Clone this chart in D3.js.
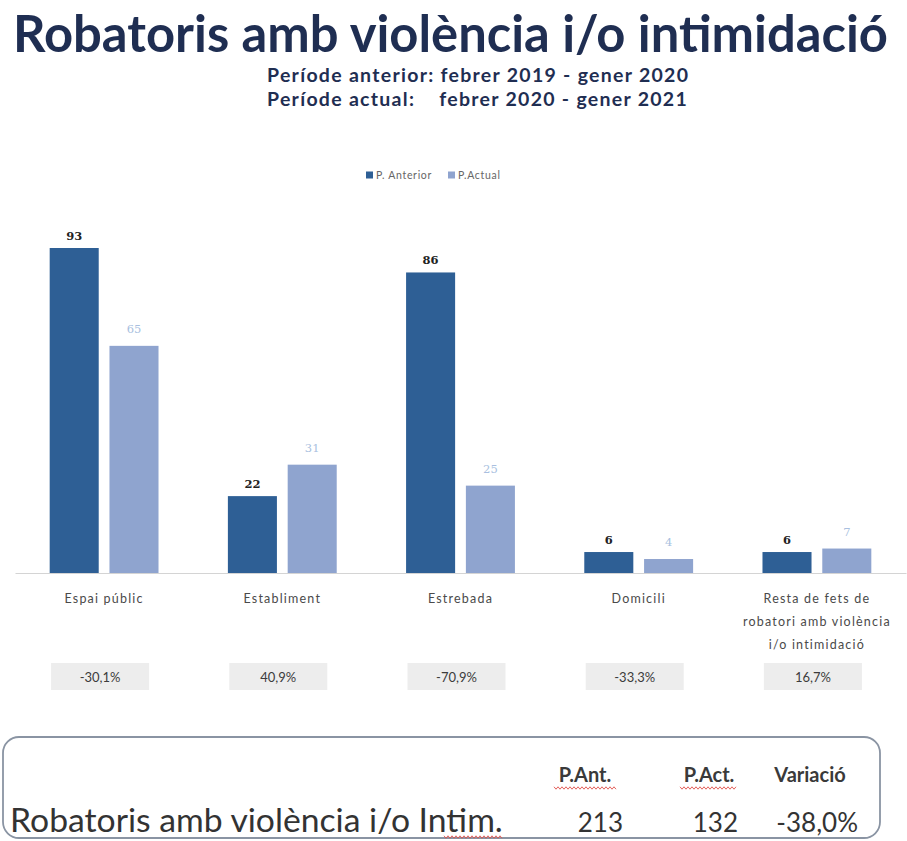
<!DOCTYPE html>
<html>
<head>
<meta charset="utf-8">
<script src="https://cdn.jsdelivr.net/npm/d3@7"></script>
<style>
  body { margin: 0; background: #fff; }
  svg { display: block; }
</style>
</head>
<body>
<svg id="chart" width="907" height="841"></svg>
<script>
const categories = ["Espai públic", "Establiment", "Estrebada", "Domicili", "Resta"];
const categoryLines = [
  ["Espai públic"],
  ["Establiment"],
  ["Estrebada"],
  ["Domicili"],
  ["Resta de fets de", "robatori amb violència", "i/o intimidació"]
];
const seriesKeys = ["ant", "act"];
const seriesNames = ["P. Anterior", "P.Actual"];
const prevValues = [93, 22, 86, 6, 6];
const currValues = [65, 31, 25, 4, 7];
const variations = ["-30,1%", "40,9%", "-70,9%", "-33,3%", "16,7%"];
const totalHeaders = ["P.Ant.", "P.Act.", "Variació"];
const totalLabel = "Robatoris amb violència i/o Intim.";
const totalValues = ["213", "132", "-38,0%"];

const darkBlue = "#2e5f95";
const lightBlue = "#8fa4cf";
const navy = "#1f2e52";

const svg = d3.select("#chart");

// fit a text to a target width by changing its font size
const fit = (sel, w) => {
  const len = sel.node().getComputedTextLength();
  const fs = parseFloat(sel.attr("font-size"));
  sel.attr("font-size", (fs * w / len).toFixed(2));
};

// title
const title = svg.append("text")
  .attr("x", 13).attr("y", 52)
  .attr("font-family", "Lato, 'Open Sans', sans-serif")
  .attr("font-weight", "bold")
  .attr("font-size", 44)
  .attr("fill", navy)
  .text("Robatoris amb violència i/o intimidació");
fit(title, 875);

// subtitles
const subFont = "Lato, 'Open Sans', sans-serif";
const subFs = 19.5;
const sub1 = svg.append("text")
  .attr("x", 267).attr("y", 82)
  .attr("font-family", subFont)
  .attr("font-weight", "bold")
  .attr("font-size", subFs)
  .attr("fill", navy)
  .text("Període anterior: febrer 2019 - gener 2020");
const len1 = sub1.node().getComputedTextLength();
const ls = (421 - len1) / 41;
sub1.attr("letter-spacing", ls);
svg.append("text")
  .attr("x", 267).attr("y", 106)
  .attr("font-family", subFont)
  .attr("font-weight", "bold")
  .attr("font-size", subFs)
  .attr("letter-spacing", ls)
  .attr("fill", navy)
  .text("Període actual:");
svg.append("text")
  .attr("x", 688).attr("y", 106)
  .attr("text-anchor", "end")
  .attr("font-family", subFont)
  .attr("font-weight", "bold")
  .attr("font-size", subFs)
  .attr("letter-spacing", ls)
  .attr("fill", navy)
  .text("febrer 2020 - gener 2021");

// legend
const legend = svg.append("g").attr("transform", "translate(366,175)");
const legendX = [0, 82];
seriesNames.forEach((name, i) => {
  const g = legend.append("g").attr("transform", `translate(${legendX[i]},0)`);
  g.append("rect").attr("x", 0).attr("y", -3.5).attr("width", 7).attr("height", 7)
    .attr("fill", i === 0 ? darkBlue : lightBlue);
  g.append("text").attr("x", 10).attr("y", 4)
    .attr("font-family", "Lato, sans-serif")
    .attr("font-size", 10.5)
    .attr("letter-spacing", 0.7)
    .attr("fill", "#666")
    .text(name);
});

// scales
const x = d3.scaleBand().domain(categories).range([15, 906]);
const xs = d3.scaleBand().domain(seriesKeys).range([0, x.bandwidth()])
  .paddingInner(0.18).paddingOuter(0.58);
const y = d3.scaleLinear().domain([0, 93]).range([573, 248]);

const rows = categories.map((c, i) => ({
  cat: c, ant: prevValues[i], act: currValues[i], lines: categoryLines[i], vari: variations[i]
}));

const groups = svg.append("g").selectAll("g.grp")
  .data(rows)
  .join("g")
  .attr("class", "grp")
  .attr("transform", (d) => `translate(${x(d.cat)},0)`);

groups.selectAll("rect.bar")
  .data((d) => seriesKeys.map((k) => ({ key: k, value: d[k] })))
  .join("rect")
  .attr("class", "bar")
  .attr("x", (d) => xs(d.key))
  .attr("y", (d) => y(d.value))
  .attr("width", xs.bandwidth())
  .attr("height", (d) => y(0) - y(d.value))
  .attr("fill", (d) => (d.key === "ant" ? darkBlue : lightBlue));

groups.selectAll("text.val")
  .data((d) => seriesKeys.map((k) => ({ key: k, value: d[k] })))
  .join("text")
  .attr("class", "val")
  .attr("x", (d) => xs(d.key) + xs.bandwidth() / 2)
  .attr("y", (d) => y(d.value) - (d.key === "ant" ? 8 : 13))
  .attr("text-anchor", "middle")
  .attr("font-family", "'DejaVu Serif', serif")
  .attr("font-weight", (d) => (d.key === "ant" ? "bold" : "normal"))
  .attr("font-size", 11.5)
  .attr("fill", (d) => (d.key === "ant" ? "#222" : "#a9bfe0"))
  .text((d) => d.value);

// axis baseline
const axis = svg.append("g").attr("transform", `translate(0,${y(0)})`)
  .call(d3.axisBottom(x).tickSize(0).tickFormat(""));
axis.select(".domain").attr("stroke", "#d4d4d4").attr("stroke-width", 1.2);

// category labels and variation boxes
groups.each(function (d) {
  const g = d3.select(this);
  d.lines.forEach((ln, j) => {
    g.append("text")
      .attr("x", x.bandwidth() / 2)
      .attr("y", 603 + j * 23)
      .attr("text-anchor", "middle")
      .attr("font-family", "Lato, sans-serif")
      .attr("font-size", 12.5)
      .attr("letter-spacing", 1.2)
      .attr("fill", "#4a4a4a")
      .text(ln);
  });
  g.append("rect")
    .attr("x", x.bandwidth() / 2 - 53)
    .attr("y", 663)
    .attr("width", 98)
    .attr("height", 27)
    .attr("fill", "#ededed");
  g.append("text")
    .attr("x", x.bandwidth() / 2 - 4)
    .attr("y", 681.5)
    .attr("text-anchor", "middle")
    .attr("font-family", "Lato, sans-serif")
    .attr("font-size", 13)
    .attr("fill", "#3c3c3c")
    .text(d.vari);
});

// totals box
svg.append("rect")
  .attr("x", 3).attr("y", 737)
  .attr("width", 877).attr("height", 101)
  .attr("rx", 16).attr("ry", 16)
  .attr("fill", "none")
  .attr("stroke", "#8a94a3")
  .attr("stroke-width", 1.8);

const squiggle = (x0, x1, yy) => {
  const pts = d3.range(x0, x1, 2).map((px, i) => [px, yy + (i % 2 ? 1.2 : -1.2)]);
  svg.append("path")
    .attr("d", d3.line()(pts))
    .attr("fill", "none")
    .attr("stroke", "#e0504a")
    .attr("stroke-width", 0.9);
};

const lbl = svg.append("text")
  .attr("x", 10).attr("y", 832)
  .attr("font-family", "Lato, sans-serif")
  .attr("font-size", 26)
  .attr("fill", "#333")
  .text(totalLabel);
fit(lbl, 493);
squiggle(444, 503, 837);

const headX = [585, 709, 810];
totalHeaders.forEach((h, i) => {
  svg.append("text")
    .attr("x", headX[i]).attr("y", 782)
    .attr("text-anchor", "middle")
    .attr("font-family", "Lato, sans-serif")
    .attr("font-weight", "bold")
    .attr("font-size", 20)
    .attr("fill", "#3a3a3a")
    .text(h);
});
squiggle(554, 617, 788);
squiggle(680, 738, 788);

const valX = [623, 738, 858];
totalValues.forEach((v, i) => {
  svg.append("text")
    .attr("x", valX[i]).attr("y", 832)
    .attr("text-anchor", "end")
    .attr("font-family", "Lato, sans-serif")
    .attr("font-size", 26)
    .attr("fill", "#333")
    .text(v);
});
</script>
</body>
</html>
